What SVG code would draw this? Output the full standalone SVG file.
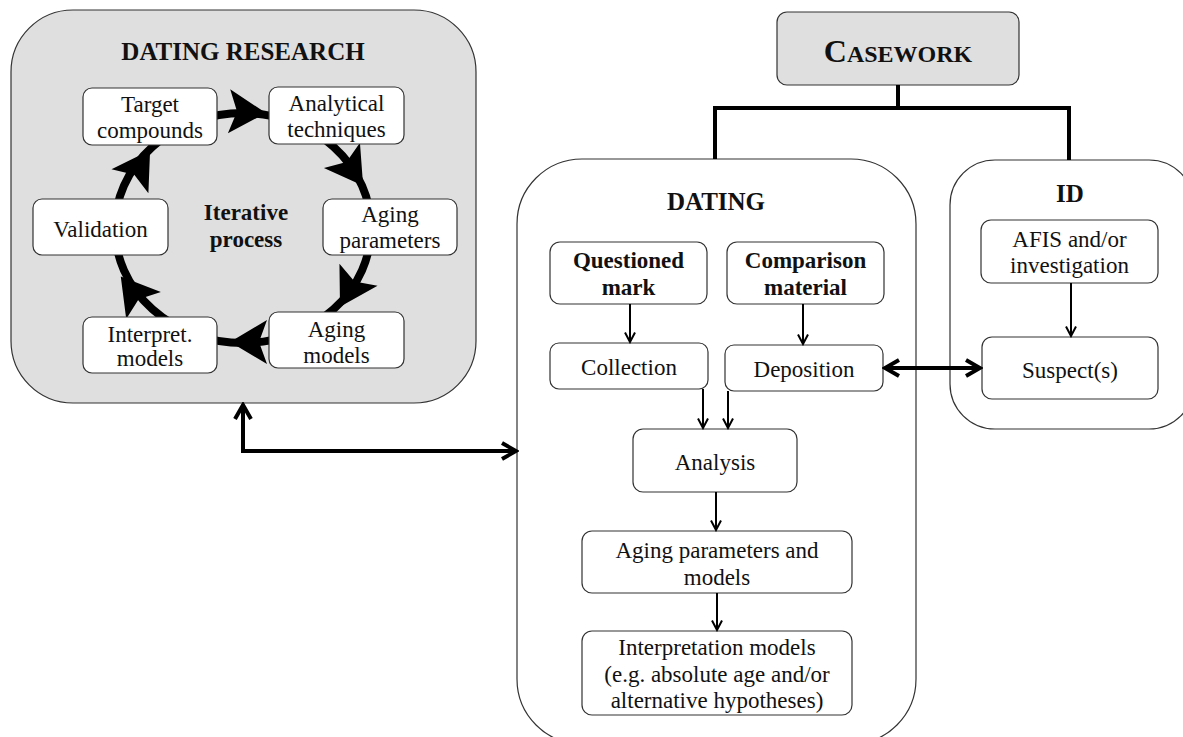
<svg xmlns="http://www.w3.org/2000/svg" xmlns:xlink="http://www.w3.org/1999/xlink" width="1183" height="737" viewBox="0 0 1183 737" font-family="'Liberation Serif', 'Times New Roman', serif">
<style>
.t{font-family:"Liberation Serif","Times New Roman",serif;font-size:23px;fill:#111;text-anchor:middle}
.b{font-weight:bold}
.h{font-family:"Liberation Serif","Times New Roman",serif;font-size:25px;font-weight:bold;fill:#111;text-anchor:middle}
.box{fill:#fff;stroke:#333;stroke-width:1.2}
.big{fill:#dfdfdf;stroke:#333;stroke-width:1.2}
.cont{fill:#fff;stroke:#333;stroke-width:1.2}
.thin{fill:none;stroke:#000;stroke-width:2;marker-end:url(#ma)}
.thick{fill:none;stroke:#000;stroke-width:4}
</style>
<defs>
<marker id="ma" viewBox="0 0 12 12" refX="10.5" refY="6" markerWidth="12" markerHeight="12" markerUnits="userSpaceOnUse" orient="auto">
<path d="M1,1 L10.5,6 L1,11" fill="none" stroke="#000" stroke-width="2"/>
</marker>
<marker id="mb" viewBox="0 0 20 20" refX="17" refY="10" markerWidth="20" markerHeight="20" markerUnits="userSpaceOnUse" orient="auto-start-reverse">
<path d="M3,2 L17,10 L3,18" fill="none" stroke="#000" stroke-width="4"/>
</marker>
<path id="sh" d="M2,0 L-35,-22 L-27,0 L-35,22 Z" fill="#000"/>
</defs>

<g id="dating-research">
<rect class="big" x="11" y="10" width="465" height="393" rx="62"/>
<text class="h" x="243" y="60">DATING RESEARCH</text>
</g>

<g id="cycle">
<ellipse cx="243" cy="228" rx="128" ry="115" fill="none" stroke="#000" stroke-width="8"/>
<use xlink:href="#sh" transform="translate(264,113) rotate(3)"/>
<use xlink:href="#sh" transform="translate(362,184) rotate(55)"/>
<use xlink:href="#sh" transform="translate(341,305) rotate(120)"/>
<use xlink:href="#sh" transform="translate(232,342) rotate(180)"/>
<use xlink:href="#sh" transform="translate(122,278) rotate(-128)"/>
<use xlink:href="#sh" transform="translate(149,152) rotate(-57)"/>
</g>

<g id="target">
<rect class="box" x="83" y="88" width="134" height="57" rx="9"/>
<text class="t" x="150" y="112">Target</text>
<text class="t" x="150" y="138">compounds</text>
</g>
<g id="analytical">
<rect class="box" x="269" y="87" width="135" height="57" rx="9"/>
<text class="t" x="336.5" y="111">Analytical</text>
<text class="t" x="336.5" y="137">techniques</text>
</g>
<g id="aging-params">
<rect class="box" x="323" y="199" width="134" height="56" rx="9"/>
<text class="t" x="390" y="222">Aging</text>
<text class="t" x="390" y="248">parameters</text>
</g>
<g id="aging-models">
<rect class="box" x="269" y="312" width="135" height="56" rx="9"/>
<text class="t" x="336.5" y="337">Aging</text>
<text class="t" x="336.5" y="363">models</text>
</g>
<g id="interpret">
<rect class="box" x="83" y="317" width="134" height="56" rx="9"/>
<text class="t" x="150" y="342">Interpret.</text>
<text class="t" x="150" y="366">models</text>
</g>
<g id="validation">
<rect class="box" x="33" y="199" width="135" height="56" rx="9"/>
<text class="t" x="100.5" y="237">Validation</text>
</g>
<g id="iterative">
<text class="t b" x="246" y="220">Iterative</text>
<text class="t b" x="246" y="247">process</text>
</g>

<g id="casework">
<rect class="big" x="777" y="12" width="242" height="73" rx="10"/>
<text class="t b" x="898" y="62"><tspan font-size="32">C</tspan><tspan font-size="24">ASEWORK</tspan></text>
</g>

<g id="dating">
<rect class="cont" x="517" y="159" width="399" height="585" rx="65"/>
<text class="h" x="716" y="210">DATING</text>
</g>

<g id="id-box">
<rect class="cont" x="950" y="160" width="244" height="269" rx="45"/>
<text class="h" x="1070" y="202">ID</text>
</g>

<g id="questioned">
<rect class="box" x="550" y="242" width="157" height="62" rx="10"/>
<text class="t b" x="628.5" y="268">Questioned</text>
<text class="t b" x="628.5" y="295">mark</text>
</g>
<g id="comparison">
<rect class="box" x="727" y="242" width="157" height="62" rx="10"/>
<text class="t b" x="805.5" y="268">Comparison</text>
<text class="t b" x="805.5" y="295">material</text>
</g>
<g id="collection">
<rect class="box" x="550" y="343" width="158" height="46" rx="9"/>
<text class="t" x="629" y="375">Collection</text>
</g>
<g id="deposition">
<rect class="box" x="725" y="345" width="158" height="46" rx="9"/>
<text class="t" x="804" y="377">Deposition</text>
</g>
<g id="analysis">
<rect class="box" x="633" y="429" width="164" height="63" rx="10"/>
<text class="t" x="715" y="470">Analysis</text>
</g>
<g id="aging-pm">
<rect class="box" x="582" y="531" width="270" height="62" rx="10"/>
<text class="t" x="717" y="558">Aging parameters and</text>
<text class="t" x="717" y="585">models</text>
</g>
<g id="interpretation">
<rect class="box" x="582" y="631" width="270" height="84" rx="10"/>
<text class="t" x="717" y="655">Interpretation models</text>
<text class="t" x="717" y="682">(e.g. absolute age and/or</text>
<text class="t" x="717" y="708">alternative hypotheses)</text>
</g>
<g id="afis">
<rect class="box" x="981" y="220" width="177" height="63" rx="10"/>
<text class="t" x="1069.5" y="247">AFIS and/or</text>
<text class="t" x="1069.5" y="273">investigation</text>
</g>
<g id="suspects">
<rect class="box" x="982" y="337" width="176" height="62" rx="10"/>
<text class="t" x="1070" y="378">Suspect(s)</text>
</g>

<g id="connectors">
<path class="thick" d="M898,85 V108 M715,108 H1069 M715,106 V159 M1069,106 V160"/>
<path class="thin" d="M630,304 V342"/>
<path class="thin" d="M803,304 V344"/>
<path class="thin" d="M703,389 V428"/>
<path class="thin" d="M728,391 V428"/>
<path class="thin" d="M716,492 V530"/>
<path class="thin" d="M717,593 V630"/>
<path class="thin" d="M1071,283 V336"/>
<path class="thick" d="M885,368 H980" marker-start="url(#mb)" marker-end="url(#mb)" stroke-width="3.5"/>
<path class="thick" d="M243,405 V451 H516" marker-start="url(#mb)" marker-end="url(#mb)"/>
</g>
</svg>
